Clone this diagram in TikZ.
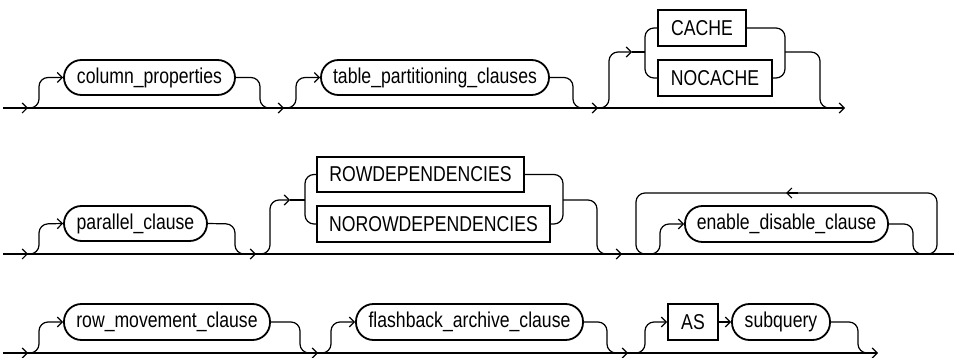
\documentclass[tikz,border=0pt]{standalone}
\usepackage{fontspec}
\setmainfont[FakeStretch=0.82]{Liberation Sans}
\usetikzlibrary{arrows.meta}
\tikzset{
  nt/.style={draw, line width=1.8pt, rounded corners=17.5pt, minimum height=35pt, inner sep=0pt, font=\fontsize{21.5}{23}\selectfont},
  term/.style={draw, line width=1.8pt, minimum height=36pt, inner sep=0pt, font=\fontsize{21.5}{23}\selectfont},
  conn/.style={line width=1.2pt, rounded corners=9pt},
  arr/.style={line width=1.2pt, -{Straight Barb[length=5pt,width=10pt]}},
}
\begin{document}
\begin{tikzpicture}[x=1pt,y=-1pt]
\useasboundingbox (0,0) rectangle (954,358);
% ---------------- Row 1 ----------------
\node[nt, minimum width=171pt] (cp) at (149.5,77.5) {column\_properties};
\node[nt, minimum width=228pt] (tpc) at (435,77.5) {table\_partitioning\_clauses};
\node[term, minimum width=88pt] (cache) at (702,28) {CACHE};
\node[term, minimum width=114pt] (nocache) at (715,78) {NOCACHE};
\coordinate (s1) at (3,108);
\coordinate (e1) at (845,108);
\draw[arr] (s1) -- (e1);
\draw[arr] (20,108) -- (28,108);
\draw[arr] (276,108) -- (284,108);
\draw[arr] (590,108) -- (598,108);
\draw[conn,arr] (28,108) -- (39,108) -- (39,77.5) -- (cp.west);
\draw[conn] (cp.east) -- (260,77.5) -- (260,108) -- (276,108);
\draw[conn,arr] (284,108) -- (296,108) -- (296,77.5) -- (tpc.west);
\draw[conn] (tpc.east) -- (573,77.5) -- (573,108) -- (590,108);
\coordinate (j1l) at (645,52);
\coordinate (j1r) at (785,52);
\draw[conn,arr] (598,108) -- (609,108) -- (609,52) -- (632,52);
\draw[conn] (632,52) -- (j1l);
\draw[conn] (cache.west) -- (645,28) -- (645,78) -- (nocache.west);
\draw[conn] (cache.east) -- (785,28) -- (785,78) -- (nocache.east);
\draw[conn] (j1r) -- (820,52) -- (820,108) -- (835,108);
% ---------------- Row 2 ----------------
\node[nt, minimum width=143pt] (pc) at (135.5,223.5) {parallel\_clause};
\node[term, minimum width=207pt, minimum height=35pt] (rowdep) at (420.5,174.5) {ROWDEPENDENCIES};
\node[term, minimum width=233pt] (norowdep) at (433.5,224) {NOROWDEPENDENCIES};
\node[nt, minimum width=203pt, minimum height=36pt] (edc) at (786.5,224) {enable\_disable\_clause};
\coordinate (s2) at (3,254);
\coordinate (e2) at (954,254);
\draw[line width=1.3pt] (s2) -- (e2);
\draw[arr] (20,254) -- (28,254);
\draw[arr] (248,254) -- (256,254);
\draw[arr] (614,254) -- (622,254);
\draw[conn,arr] (28,254) -- (39,254) -- (39,224) -- (pc.west);
\draw[conn] (pc.east) -- (235,224) -- (235,254) -- (248,254);
\coordinate (j2l) at (305,200);
\coordinate (j2r) at (563,200);
\draw[conn,arr] (256,254) -- (270,254) -- (270,200) -- (290,200);
\draw[conn] (290,200) -- (j2l);
\draw[conn] (rowdep.west) -- (305,174.5) -- (305,224) -- (norowdep.west);
\draw[conn] (rowdep.east) -- (563,174.5) -- (563,224) -- (norowdep.east);
\draw[conn] (j2r) -- (597,200) -- (597,254) -- (614,254);
\draw[conn,arr] (622,254) -- (660,254) -- (660,224) -- (edc.west);
\draw[conn] (edc.east) -- (913,224) -- (913,254) -- (937,254) -- (937,193) -- (636,193) -- (636,254) -- (660,254);
\draw[arr] (798,193) -- (786,193);
% ---------------- Row 3 ----------------
\node[nt, minimum width=206pt, minimum height=36pt] (rmc) at (167,322) {row\_movement\_clause};
\node[nt, minimum width=227pt, minimum height=36pt] (fac) at (469.5,322) {flashback\_archive\_clause};
\node[term, minimum width=50pt] (as) at (693,322) {AS};
\node[nt, minimum width=98pt, minimum height=36pt] (sq) at (781,322) {subquery};
\coordinate (s3) at (3,353);
\coordinate (e3) at (878,353);
\draw[arr] (s3) -- (e3);
\draw[arr] (20,353) -- (28,353);
\draw[arr] (310,353) -- (318,353);
\draw[arr] (620,353) -- (628,353);
\draw[conn,arr] (28,353) -- (39,353) -- (39,322) -- (rmc.west);
\draw[conn] (rmc.east) -- (300,322) -- (300,353) -- (310,353);
\draw[conn,arr] (318,353) -- (331,353) -- (331,322) -- (fac.west);
\draw[conn] (fac.east) -- (607,322) -- (607,353) -- (620,353);
\draw[conn,arr] (628,353) -- (645,353) -- (645,322) -- (as.west);
\draw[arr] (as.east) -- (sq.west);
\draw[conn] (sq.east) -- (858,322) -- (858,353) -- (870,353);
\end{tikzpicture}
\end{document}
